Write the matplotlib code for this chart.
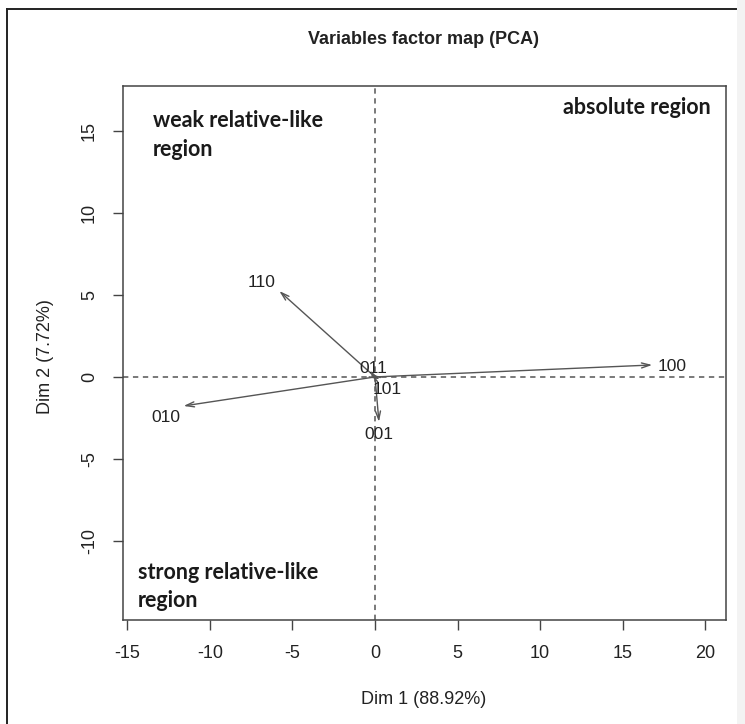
import numpy as np
import matplotlib
matplotlib.use("Agg")
import matplotlib.pyplot as plt
from matplotlib.lines import Line2D
from matplotlib.patches import Rectangle

plt.rcParams["axes.unicode_minus"] = False

# PCA variable coordinates
var_names = ["100", "110", "010", "001", "011", "101"]
dim1 = [16.8, -5.8, -11.6, 0.24, -0.3, 0.3]
dim2 = [0.73, 5.24, -1.77, -2.74, 0.2, -0.15]

x_ticks = [-15, -10, -5, 0, 5, 10, 15, 20]
y_ticks = [-10, -5, 0, 5, 10, 15]

title = "Variables factor map (PCA)"
x_label = "Dim 1 (88.92%)"
y_label = "Dim 2 (7.72%)"

# label offsets in points relative to the arrow tips
label_offsets = {
    "100": (14, -1),
    "110": (-13, 6),
    "010": (-13, -8),
    "001": (0, -9),
    "011": (2, 4),
    "101": (5, -7),
}

W, H = 745, 724
fig = plt.figure(figsize=(W / 100, H / 100), dpi=100)
fig.patch.set_facecolor("white")

# outer frame pieces (top and left) and a faint strip on the right
fig.add_artist(Line2D([7 / W, 736 / W], [1 - 9 / H, 1 - 9 / H], color="#222222", lw=1.4))
fig.add_artist(Line2D([7 / W, 7 / W], [0, 1 - 9 / H], color="#222222", lw=1.4))
fig.add_artist(Rectangle((737 / W, 0), 8 / W, 1, transform=fig.transFigure,
                         facecolor="#f3f3f3", edgecolor="none"))

ax = fig.add_axes([123 / W, 1 - 620 / H, 603 / W, 534 / H])
ax.set_xlim(-15.27, 21.27)
ax.set_ylim(-14.82, 17.74)

for s in ax.spines.values():
    s.set_color("#444444")
    s.set_linewidth(1.1)

ax.set_xticks(x_ticks)
ax.set_yticks(y_ticks)
ax.tick_params(direction="out", length=7, width=1, color="#444444",
               labelsize=13, labelcolor="#222222", pad=11)
ax.set_yticklabels([str(v) for v in y_ticks], rotation=90, va="center")
for lab in ax.get_xticklabels() + ax.get_yticklabels():
    lab.set_family("Liberation Sans")

ax.axhline(0, color="#555555", lw=1.1, ls=(0, (3.5, 3)))
ax.axvline(0, color="#555555", lw=1.1, ls=(0, (3.5, 3)))

for name, x, y in zip(var_names, dim1, dim2):
    ax.annotate("", xy=(x, y), xytext=(0, 0),
                arrowprops=dict(arrowstyle="->,head_length=0.6,head_width=0.18",
                                color="#555555", lw=1.0, shrinkA=0, shrinkB=0))
    dx, dy = label_offsets[name]
    ax.annotate(name, xy=(x, y), xytext=(dx, dy), textcoords="offset points",
                ha="center", va="center", fontsize=12.5, color="#222222",
                family="Liberation Sans")

region_font = dict(family=["Lato", "DejaVu Sans"], fontweight="bold",
                   fontsize=15.5, color="#1a1a1a", linespacing=1.45)
ax.text(0.05, 0.908, "weak relative-like\nregion", transform=ax.transAxes,
        ha="left", va="center", **region_font)
ax.text(0.975, 0.959, "absolute region", transform=ax.transAxes,
        ha="right", va="center", **region_font)
ax.text(0.025, 0.063, "strong relative-like\nregion", transform=ax.transAxes,
        ha="left", va="center", **region_font)

fig.text(424 / W, 1 - 40 / H, title, ha="center", va="center",
         fontsize=13, fontweight="bold", family="Liberation Sans", color="#222222")
fig.text(424 / W, 1 - 700 / H, x_label, ha="center", va="center",
         fontsize=13, family="Liberation Sans", color="#222222")
fig.text(45 / W, 1 - 357 / H, y_label, ha="center", va="center", rotation=90,
         fontsize=13, family="Liberation Sans", color="#222222")

fig.savefig("out.png", dpi=100)
